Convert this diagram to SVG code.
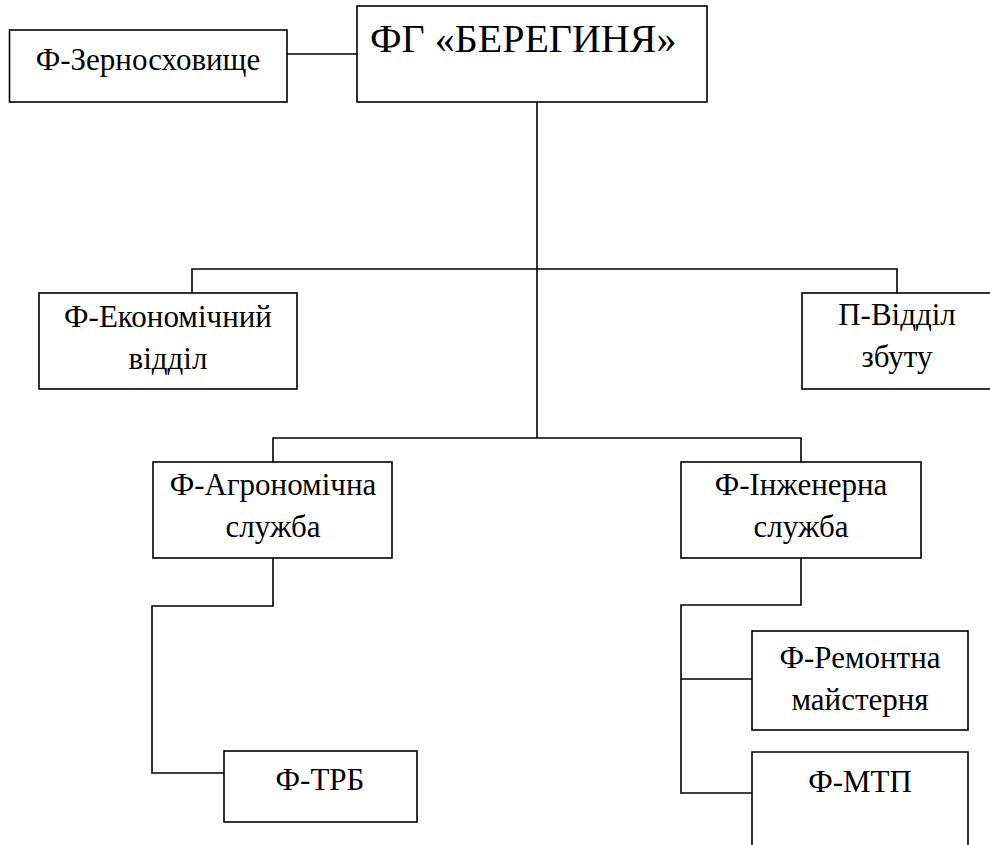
<svg xmlns="http://www.w3.org/2000/svg" width="990" height="845" viewBox="0 0 990 845" xml:lang="uk" style="font-family:'Liberation Serif','Times New Roman',serif">
<rect width="990" height="845" fill="#ffffff"/>
<g id="connectors" fill="none" stroke="#000" stroke-width="1.6">
<line x1="287" y1="54" x2="357" y2="54"/>
<line x1="537" y1="102" x2="537" y2="438"/>
<polyline points="192,293 192,269 897,269 897,293"/>
<polyline points="273,462 273,438 801,438 801,462"/>
<polyline points="273,558 273,606 152,606 152,773 224,773"/>
<polyline points="801,558 801,605 681,605 681,793 752,793"/>
<line x1="681" y1="679" x2="752" y2="679"/>
</g>
<g id="nodes" fill="#fff" stroke="#000" stroke-width="1.6">
<rect id="box-main" x="357" y="6" width="350" height="96"/>
<rect id="box-zerno" x="9.5" y="30" width="277.5" height="72"/>
<rect id="box-econ" x="39" y="293" width="258" height="96"/>
<rect id="box-zbut" x="802" y="293" width="190" height="96"/>
<rect id="box-agro" x="153" y="462" width="239" height="96"/>
<rect id="box-inzh" x="681" y="462" width="240" height="96"/>
<rect id="box-trb" x="224" y="751" width="193" height="71"/>
<rect id="box-remont" x="752" y="631" width="216" height="99"/>
<path id="box-mtp" d="M752,850 V752 H968 V850" fill="none"/>
</g>
<g id="labels" font-size="31" text-anchor="middle" fill="#000">
<text id="t-main" x="370" y="52" font-size="40" text-anchor="start">ФГ «БЕРЕГИНЯ»</text>
<text x="148" y="70">Ф-Зерносховище</text>
<text x="168" y="327">Ф-Економічний</text>
<text x="168" y="369">відділ</text>
<text x="897" y="325">П-Відділ</text>
<text x="897" y="367">збуту</text>
<text x="273" y="495">Ф-Агрономічна</text>
<text x="273" y="537">служба</text>
<text x="801" y="495">Ф-Інженерна</text>
<text x="801" y="537">служба</text>
<text x="320" y="790">Ф-ТРБ</text>
<text x="860" y="668">Ф-Ремонтна</text>
<text x="860" y="710">майстерня</text>
<text x="860" y="792">Ф-МТП</text>
</g>
</svg>
